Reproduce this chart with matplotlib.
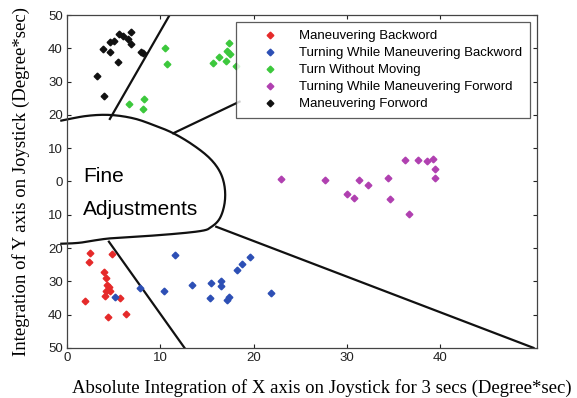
#!/usr/bin/env python3

import numpy as np
import matplotlib
matplotlib.use("Agg")
import matplotlib.pyplot as plt
from matplotlib.ticker import FuncFormatter

# data (x: |int X|, y: int Y, Degree*sec)
back_x = [2.47, 4.85, 2.35, 4.0, 4.15, 4.29, 4.53, 4.18, 1.9, 5.7, 6.29, 4.36, 4.6, 4.1]
back_y = [-21.6, -21.9, -24.1, -27.2, -28.9, -31.0, -31.6, -32.8, -35.9, -35.0, -39.7, -40.7, -33.0, -34.5]

turn_back_x = [11.54, 19.6, 18.8, 18.2, 13.4, 15.4, 16.5, 16.5, 7.86, 10.4, 5.18, 15.3, 17.4, 17.2, 21.9]
turn_back_y = [-22.2, -22.6, -24.7, -26.5, -31.0, -30.4, -30.0, -31.5, -31.9, -32.8, -34.6, -35.0, -34.7, -35.6, -33.6]

turn_x = [10.54, 10.69, 6.65, 8.25, 8.15, 17.4, 17.2, 17.5, 16.3, 15.7, 17.1, 18.1]
turn_y = [40.2, 35.2, 23.2, 24.8, 21.9, 41.5, 39.3, 38.3, 37.5, 35.5, 36.2, 34.8]

turn_fwd_x = [22.9, 27.7, 31.3, 32.3, 30.0, 30.8, 34.4, 34.6, 36.2, 37.6, 38.6, 39.2, 39.5, 39.5, 36.7]
turn_fwd_y = [0.75, 0.45, 0.45, -0.96, -3.75, -4.95, 1.14, -5.3, 6.46, 6.46, 6.16, 6.85, 3.66, 1.14, -9.76]

fwd_x = [6.86, 5.6, 5.97, 6.5, 4.6, 5.07, 6.86, 3.82, 4.6, 7.93, 8.18, 5.5, 3.18, 3.93]
fwd_y = [44.9, 44.2, 43.8, 42.9, 41.9, 42.3, 41.3, 39.8, 38.8, 38.8, 38.5, 35.9, 31.6, 25.6]

labels = ["Maneuvering Backword", "Turning While Maneuvering Backword",
          "Turn Without Moving", "Turning While Maneuvering Forword",
          "Maneuvering Forword"]
colors = ["#e52a2a", "#2d4fb5", "#3cc83c", "#b040b0", "#111111"]

# hand-drawn region boundaries
blob_x = [-0.6, 2.1, 4.6, 7.1, 9.25, 11.4, 13.5, 15.3, 16.4, 16.9, 16.9, 16.4, 15.5, 14.3, 10.0, 4.6, 1.4, -0.6]
blob_y = [18.3, 19.7, 20.0, 19.0, 17.0, 14.5, 11.0, 7.0, 2.9, -1.6, -6.5, -11.0, -13.6, -14.9, -16.1, -17.1, -18.4, -18.7]
dividers = [
    ([4.6, 11.0], [18.8, 50.0]),
    ([11.4, 18.5], [14.5, 24.0]),
    ([16.0, 50.0], [-13.6, -50.0]),
    ([4.5, 12.6], [-18.1, -50.0]),
]


def smooth(xs, ys, n=12):
    # catmull-rom through the outline points
    p = np.column_stack([xs, ys])
    p = np.vstack([p[0], p, p[-1]])
    out = []
    for i in range(1, len(p) - 2):
        p0, p1, p2, p3 = p[i - 1], p[i], p[i + 1], p[i + 2]
        for t in np.linspace(0, 1, n, endpoint=False):
            t2, t3 = t * t, t * t * t
            out.append(0.5 * ((2 * p1) + (-p0 + p2) * t
                              + (2 * p0 - 5 * p1 + 4 * p2 - p3) * t2
                              + (-p0 + 3 * p1 - 3 * p2 + p3) * t3))
    out.append(p[-2])
    out = np.array(out)
    return out[:, 0], out[:, 1]


fig = plt.figure(figsize=(5.77, 3.98), dpi=100)
ax = fig.add_axes([0.116, 0.126, 0.815, 0.836])

series = [(back_x, back_y), (turn_back_x, turn_back_y), (turn_x, turn_y),
          (turn_fwd_x, turn_fwd_y), (fwd_x, fwd_y)]
for (xs, ys), lab, c in zip(series, labels, colors):
    ax.plot(xs, ys, linestyle="none", marker="D", markersize=3.4,
            color=c, label=lab, zorder=3)

for xs, ys in dividers:
    ax.plot(xs, ys, color="#111111", lw=1.6, zorder=2)

bx, by = smooth(blob_x, blob_y)
ax.plot(bx, by, color="#111111", lw=1.6, zorder=2, clip_on=False)

ax.text(1.7, 1.6, "Fine", fontsize=15, family="Liberation Sans", va="center")
ax.text(1.7, -8.3, "Adjustments", fontsize=15, family="Liberation Sans", va="center")

ax.set_xlim(0, 50.4)
ax.set_ylim(-50, 50)
ax.set_xticks([0, 10, 20, 30, 40])
ax.set_yticks(np.arange(-50, 51, 10))
ax.yaxis.set_major_formatter(FuncFormatter(lambda v, pos: "%d" % abs(round(v))))
ax.tick_params(direction="in", length=3, width=0.8, top=True, right=True,
               labelsize=9.5, pad=3, colors="#222222")
for lbl in ax.get_xticklabels() + ax.get_yticklabels():
    lbl.set_family("Liberation Sans")
for s in ax.spines.values():
    s.set_linewidth(0.9)
    s.set_color("#444444")

# labels sit a bit off-centre in the original
fig.text(322 / 577, 1 - 388 / 398,
         "Absolute Integration of X axis on Joystick for 3 secs (Degree*sec)",
         family="Liberation Serif", fontsize=13.5, ha="center", va="center")
fig.text(21 / 577, 1 - 182 / 398,
         "Integration of Y axis on Joystick (Degree*sec)",
         family="Liberation Serif", fontsize=13.5, ha="center", va="center",
         rotation=90)

leg = ax.legend(loc="upper right", bbox_to_anchor=(0.985, 0.979),
                prop={"family": "Liberation Sans", "size": 9.5},
                frameon=True, fancybox=False, edgecolor="#333333",
                borderpad=0.6, labelspacing=0.36, handletextpad=0.25,
                handlelength=3.95, borderaxespad=0, markerscale=1.0)
leg.get_frame().set_linewidth(0.9)
leg.set_zorder(5)

fig.savefig("out.png", dpi=100)
